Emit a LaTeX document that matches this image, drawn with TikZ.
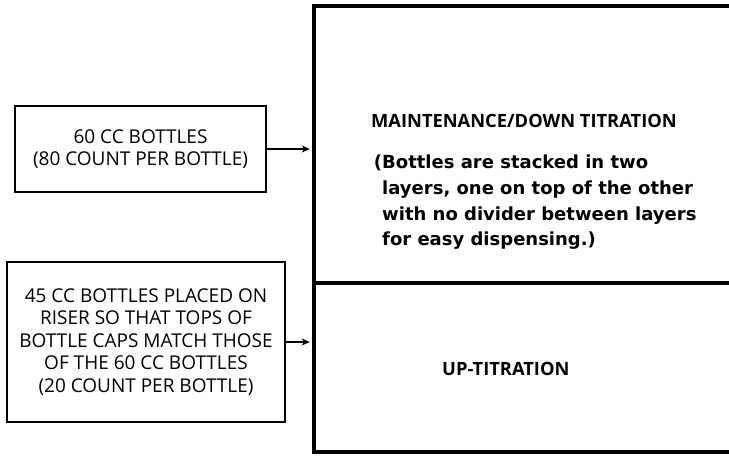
\documentclass[tikz,border=0pt]{standalone}
\usepackage{fontspec}
\setmainfont{Open Sans}
\newfontfamily\notefont{DejaVu Sans}
\usepackage{tikz}
\usetikzlibrary{arrows.meta}

\begin{document}
\begin{tikzpicture}
	[x=1pt,y=-1pt,
	 inbox/.style={draw,line width=1.4pt,rectangle,align=center,inner sep=0pt,font=\fontsize{19}{22.5}\selectfont},
	 tray/.style={draw,line width=4.5pt,rectangle,inner sep=0pt},
	 heading/.style={inner sep=0pt,anchor=base west,font=\bfseries\fontsize{18.3}{22}\selectfont},
	 note/.style={inner sep=0pt,anchor=base west,align=left,font=\notefont\bfseries\fontsize{18}{25.9}\selectfont}]
	\useasboundingbox (0,0) rectangle (729,457);
	\node[tray,minimum width=430pt,minimum height=277pt] (maint) at (529,144.5) {};
	\node[tray,minimum width=430pt,minimum height=169pt] (uptit) at (529,367.5) {};
	
	\node[inbox,minimum width=251pt,minimum height=86pt] (bottlesA) at (140.5,149) {60 CC BOTTLES\\(80 COUNT PER BOTTLE)};
	\node[inbox,minimum width=278pt,minimum height=160pt] (bottlesB) at (146,342) {45 CC BOTTLES PLACED ON\\RISER SO THAT TOPS OF\\BOTTLE CAPS MATCH THOSE\\OF THE 60 CC BOTTLES\\(20 COUNT PER BOTTLE)};
	
	\node[heading] (mainttitle) at (371,128) {MAINTENANCE/DOWN TITRATION};
	\node[note] (maintnote) at (382,246) {\llap{(}Bottles are stacked in two\\layers, one on top of the other\\with no divider between layers\\for easy dispensing.)};
	\node[heading] (uptittitle) at (442,375) {UP-TITRATION};
	
	\foreach \from/\to in {bottlesA/maint,bottlesB/uptit}
	\draw[line width=1.4pt,-{Stealth[length=8pt,width=7pt]},shorten >=2pt] (\from.east) -- (\from.east -| \to.west);
\end{tikzpicture}
\end{document}
